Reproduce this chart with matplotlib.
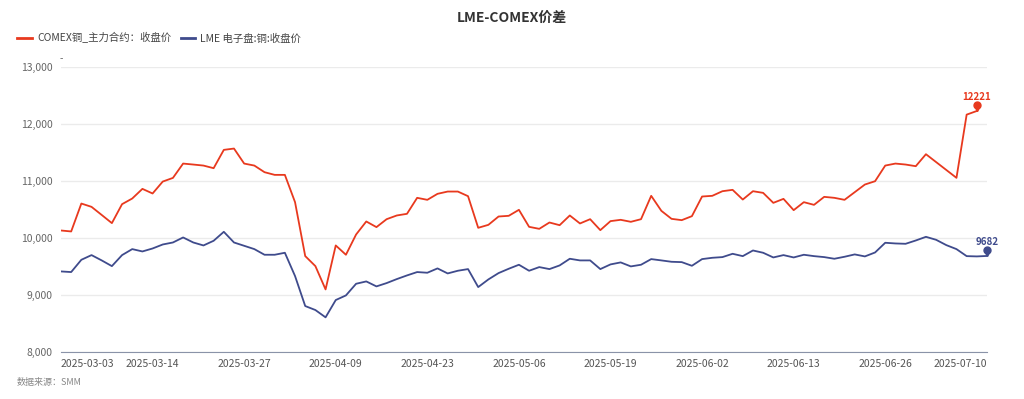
import numpy as np
import pandas as pd
from matplotlib import pyplot as plt
from matplotlib import transforms

plt.rcParams['font.family'] = ['Noto Sans CJK SC', 'DejaVu Sans']

# trading days (Good Friday and the late-May holiday are missing)
dates = pd.bdate_range('2025-03-03', '2025-07-10')
dates = dates.drop(pd.to_datetime(['2025-04-18', '2025-05-26']))
dateLabels = [d.strftime('%Y-%m-%d') for d in dates]

comex = [10128, 10111, 10600, 10542, 10400, 10257, 10589, 10688, 10857, 10776,
         10985, 11049, 11300, 11283, 11265, 11219, 11540, 11563, 11300, 11265,
         11149, 11102, 11102, 10624, 9680, 9504, 9096, 9866, 9703, 10058,
         10286, 10187, 10326, 10391, 10420, 10700, 10665, 10770, 10810, 10810,
         10729, 10175, 10227, 10373, 10385, 10490, 10192, 10157, 10268, 10221,
         10391, 10251, 10326, 10134, 10292, 10315, 10280, 10326, 10735, 10472,
         10332, 10309, 10379, 10723, 10735, 10816, 10840, 10670, 10816, 10787,
         10612, 10682, 10484, 10624, 10577, 10717, 10700, 10665, 10799, 10933,
         10991, 11265, 11300, 11283, 11254, 11464, 11326, 11188, 11050, 12157,
         12221, np.nan]

lme = [9411, 9400, 9615, 9697, 9604, 9504, 9697, 9802, 9761, 9813,
       9883, 9918, 10006, 9918, 9866, 9948, 10105, 9918, 9860, 9802,
       9703, 9703, 9738, 9330, 8805, 8735, 8607, 8910, 8991, 9195,
       9236, 9149, 9207, 9277, 9341, 9400, 9388, 9464, 9376, 9423,
       9452, 9137, 9271, 9382, 9458, 9528, 9423, 9487, 9452, 9516,
       9633, 9604, 9604, 9452, 9534, 9569, 9499, 9528, 9627, 9604,
       9580, 9574, 9510, 9627, 9650, 9662, 9720, 9679, 9778, 9738,
       9656, 9697, 9656, 9703, 9679, 9662, 9633, 9668, 9709, 9674,
       9743, 9913, 9901, 9895, 9953, 10017, 9965, 9872, 9802, 9679,
       9674, 9682]

seriesNames = ['COMEX铜_主力合约：收盘价', 'LME 电子盘:铜:收盘价']
colors = ['#e8391e', '#3f4b8c']

fig = plt.figure(figsize=(10.24, 3.99), dpi=100)
ax = fig.add_axes([61 / 1024, 47 / 399, 926 / 1024, 285.5 / 399])

x = np.arange(len(dateLabels))
for values, name, color in zip([comex, lme], seriesNames, colors):
    ax.plot(x, values, color=color, linewidth=1.3, label=name)

    # pin marker + value label at the last valid point
    arr = np.array(values, dtype=float)
    last = np.where(~np.isnan(arr))[0][-1]
    pinOffset = transforms.offset_copy(ax.transData, fig=fig, x=0, y=4, units='points')
    ax.plot(last, arr[last], marker='o', markersize=5, color=color,
            transform=pinOffset, clip_on=False)
    ax.plot(last, arr[last], marker='v', markersize=3, color=color,
            transform=transforms.offset_copy(ax.transData, fig=fig, x=0, y=1.5, units='points'),
            clip_on=False)
    ax.annotate(f'{int(arr[last])}', (last, arr[last]), xytext=(0, 6.5),
                textcoords='offset points', ha='center', va='bottom',
                color=color, fontsize=7, fontweight='bold')

ax.set_xlim(0, len(dateLabels) - 1)
ax.set_ylim(8000, 13000)
ax.set_yticks(range(8000, 13001, 1000))
ax.set_yticklabels([f'{v:,}' for v in range(8000, 13001, 1000)])
ax.grid(axis='y', color='#ebebeb', linewidth=1)
ax.set_axisbelow(True)

tickIdx = list(range(0, len(dateLabels) - 2, 9)) + [len(dateLabels) - 1]
ax.set_xticks(tickIdx)
ax.set_xticklabels([dateLabels[i] for i in tickIdx])
tickTexts = ax.get_xticklabels()
tickTexts[0].set_ha('left')
tickTexts[-1].set_ha('right')

for side in ['top', 'right', 'left']:
    ax.spines[side].set_visible(False)
ax.spines['bottom'].set_color('#8a93a8')
ax.tick_params(axis='x', length=0, pad=5, labelsize=7.5, labelcolor='#555555')
ax.tick_params(axis='y', length=0, pad=6, labelsize=7.5, labelcolor='#666666')

ax.text(0, 1.01, '-', transform=ax.transAxes, ha='center', va='bottom',
        fontsize=7, color='#666666')

fig.text(0.5, 1 - 18 / 399, 'LME-COMEX价差', ha='center', va='center',
         fontsize=10, fontweight='bold', color='#333333')

leg = fig.legend(loc='center left', bbox_to_anchor=(8 / 1024, 1 - 38 / 399),
                 ncol=2, frameon=False, fontsize=7.5, handlelength=1.4,
                 handletextpad=0.5, columnspacing=0.9, labelcolor='#444444')
for line in leg.get_lines():
    line.set_linewidth(2)

fig.text(17 / 1024, 1 - 382 / 399, '数据来源：SMM', ha='left', va='center',
         fontsize=6.5, color='#888888', style='italic')

fig.savefig('out.png', dpi=100)
